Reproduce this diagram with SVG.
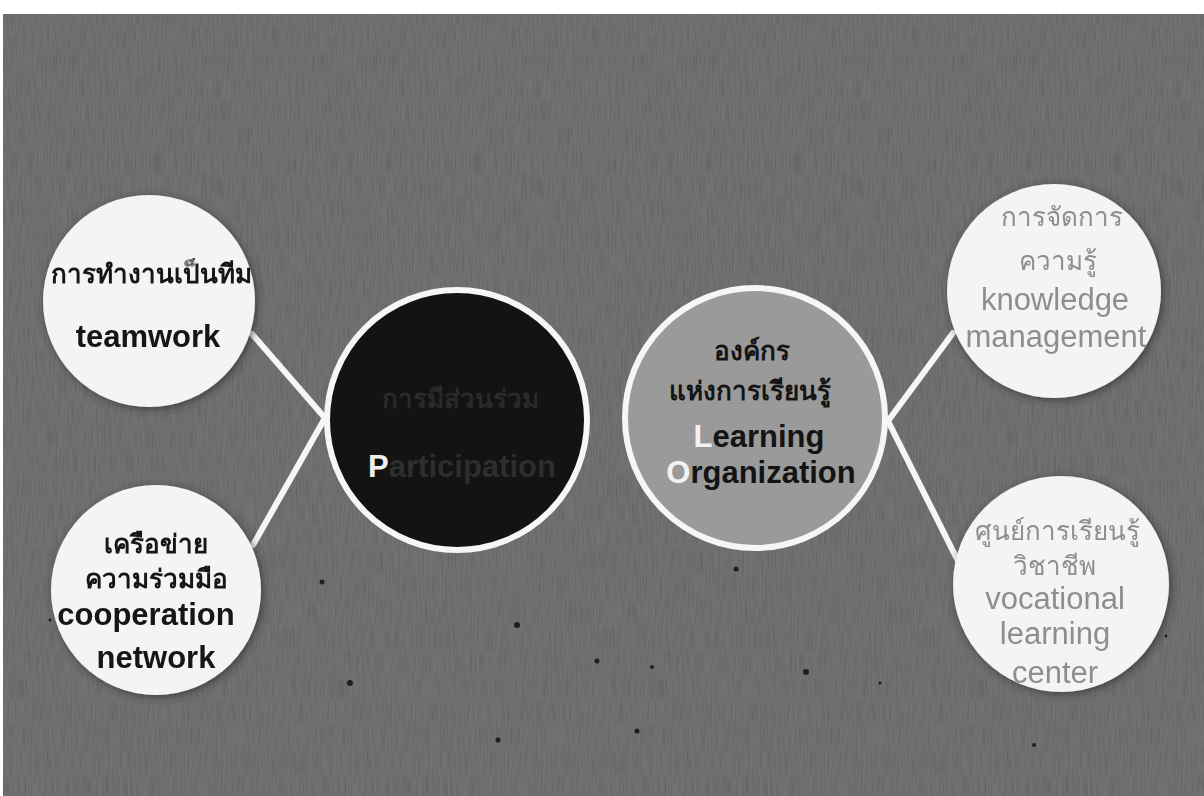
<svg xmlns="http://www.w3.org/2000/svg" width="1204" height="796" viewBox="0 0 1204 796">
  <defs>
    <filter id="grain" x="0" y="0" width="100%" height="100%">
      <feTurbulence type="fractalNoise" baseFrequency="0.8 0.04" numOctaves="2" seed="5" result="n"/>
      <feColorMatrix in="n" type="matrix" values="0 0 0 0 0  0 0 0 0 0  0 0 0 0 0  0.8 0 0 0 -0.3" result="a"/>
      <feComposite in="a" in2="SourceGraphic" operator="in"/>
    </filter>
    <filter id="halo" x="-20%" y="-20%" width="140%" height="140%">
      <feGaussianBlur in="SourceAlpha" stdDeviation="4"/>
      <feOffset dx="2" dy="2" result="b"/>
      <feFlood flood-color="#2a2a2a" flood-opacity="0.7"/>
      <feComposite in2="b" operator="in" result="s"/>
      <feMerge><feMergeNode in="s"/><feMergeNode in="SourceGraphic"/></feMerge>
    </filter>
    <style>
      .t { font-family: "Liberation Sans", "Noto Sans", "DejaVu Sans", sans-serif; text-anchor: middle; }
      .en { font-size: 31px; font-weight: bold; }
      .th { font-size: 26px; font-weight: bold; }
      .lt { fill: #8e8e8e; font-weight: normal; }
      .dk { fill: #141414; }
      .white { fill: #f4f4f4; stroke: none; }
      .conn { stroke: #f6f6f6; stroke-width: 6; stroke-linecap: round; fill: none; }
      .ring { stroke: #f6f6f6; stroke-width: 6; }
    </style>
  </defs>

  <rect x="0" y="0" width="1204" height="796" fill="#ffffff"/>
  <rect x="3" y="14" width="1201" height="782" fill="#727272"/>
  <rect x="3" y="14" width="1201" height="782" fill="#727272" filter="url(#grain)" opacity="0.3"/>

  <g id="specks" fill="#1e1e1e">
    <circle cx="322" cy="582" r="2.5"/>
    <circle cx="517" cy="625" r="3"/>
    <circle cx="350" cy="683" r="3"/>
    <circle cx="597" cy="661" r="2.5"/>
    <circle cx="652" cy="667" r="2"/>
    <circle cx="736" cy="569" r="2.5"/>
    <circle cx="806" cy="672" r="3"/>
    <circle cx="880" cy="683" r="1.5"/>
    <circle cx="498" cy="740" r="2.5"/>
    <circle cx="637" cy="731" r="2.5"/>
    <circle cx="1034" cy="745" r="2"/>
    <circle cx="50" cy="620" r="1.5"/>
    <circle cx="1166" cy="636" r="1.5"/>
  </g>

  <g id="connectors">
    <line class="conn" x1="252" y1="334" x2="325" y2="418"/>
    <line class="conn" x1="253" y1="545" x2="325" y2="418"/>
    <line class="conn" x1="888" y1="421" x2="953" y2="333"/>
    <line class="conn" x1="888" y1="421" x2="958" y2="561"/>
  </g>

  <g id="node-teamwork" filter="url(#halo)">
    <circle class="white" cx="149" cy="301" r="106"/>
    <text class="t th dk" x="151" y="283">การทำงานเป็นทีม</text>
    <text class="t en dk" x="148" y="347">teamwork</text>
  </g>

  <g id="node-cooperation" filter="url(#halo)">
    <circle class="white" cx="156" cy="590" r="105"/>
    <text class="t th dk" x="156" y="553">เครือข่าย</text>
    <text class="t th dk" x="156" y="588">ความร่วมมือ</text>
    <text class="t en dk" x="146" y="625" font-size="32">cooperation</text>
    <text class="t en dk" x="156" y="668" font-size="32">network</text>
  </g>

  <g id="node-participation">
    <circle class="ring" cx="457" cy="420" r="130" fill="#131313"/>
    <text class="t th" x="460" y="408" fill="#2a2a2a">การมีส่วนร่วม</text>
    <text class="t en" x="462" y="477" font-size="34" fill="#2e2e2e"><tspan fill="#efefef">P</tspan>articipation</text>
  </g>

  <g id="node-learning-organization">
    <circle class="ring" cx="755" cy="418" r="130" fill="#9a9a9a"/>
    <text class="t th dk" x="752" y="360">องค์กร</text>
    <text class="t th dk" x="750" y="400">แห่งการเรียนรู้</text>
    <text class="t en dk" x="759" y="447" font-size="32"><tspan fill="#f2f2f2">L</tspan>earning</text>
    <text class="t en dk" x="761" y="483" font-size="32"><tspan fill="#f2f2f2">O</tspan>rganization</text>
  </g>

  <g id="node-knowledge-management" filter="url(#halo)">
    <circle class="white" cx="1054" cy="291" r="107"/>
    <text class="t th lt" x="1062" y="226">การจัดการ</text>
    <text class="t th lt" x="1058" y="270">ความรู้</text>
    <text class="t en lt" x="1055" y="310" font-size="29">knowledge</text>
    <text class="t en lt" x="1056" y="347" font-size="29">management</text>
  </g>

  <g id="node-vocational-learning-center" filter="url(#halo)">
    <circle class="white" cx="1061" cy="584" r="108"/>
    <text class="t th lt" x="1057" y="540" font-size="27">ศูนย์การเรียนรู้</text>
    <text class="t th lt" x="1054" y="575" font-size="25">วิชาชีพ</text>
    <text class="t en lt" x="1055" y="609" font-size="29">vocational</text>
    <text class="t en lt" x="1055" y="644" font-size="29">learning</text>
    <text class="t en lt" x="1055" y="683" font-size="29">center</text>
  </g>
</svg>
